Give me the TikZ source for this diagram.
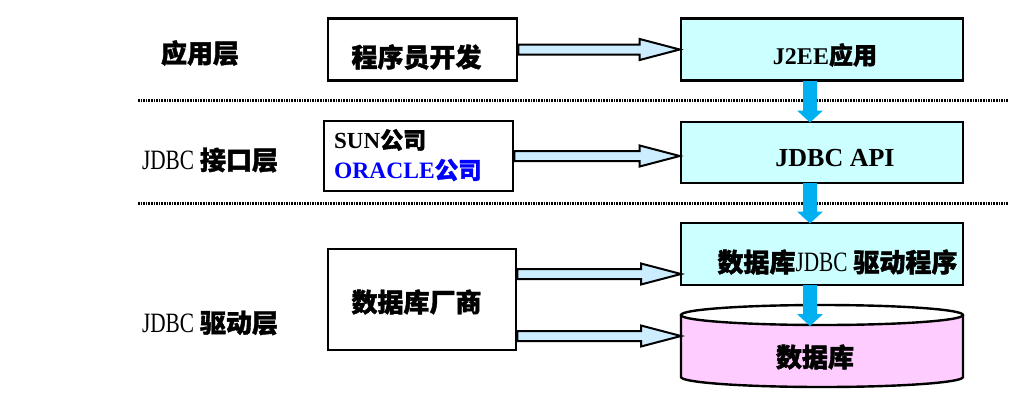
\documentclass[tikz,border=0pt]{standalone}
\usepackage{fontspec}
\setmainfont{Liberation Serif}
\newfontfamily\cjk[BoldFeatures={FakeBold=1.5}]{Noto Sans CJK SC}
\newfontfamily\narrowserif[FakeStretch=0.76]{Liberation Serif}
\usetikzlibrary{calc}
\definecolor{boxcyan}{HTML}{CCFFFF}
\definecolor{arrowfill}{HTML}{CCECFF}
\definecolor{dbpink}{HTML}{FFCCFF}
\definecolor{downblue}{HTML}{00B0F0}
\definecolor{oracleblue}{HTML}{0000FF}
\tikzset{
  plainbox/.style={draw=black, line width=2.6pt, fill=white, inner sep=0pt},
  cyanbox/.style={draw=black, line width=2.6pt, fill=boxcyan, inner sep=0pt},
  txt/.style={inner sep=0pt, font=\cjk\bfseries\fontsize{26}{30}\selectfont},
  harrow/.style={draw=black, line width=2pt, fill=arrowfill, line join=miter},
  varrow/.style={fill=downblue},
  dotline/.style={line width=3pt, dash pattern=on 1.6pt off 1pt}
}
\newcommand\blockarrowH[2]{%
  \path[harrow] let \p1=(#1), \p2=(#2) in
    (\x1,{\y1+5pt}) -- ({\x2-40pt},{\y1+5pt}) -- ({\x2-40pt},{\y1+10.5pt}) -- (\x2,\y1)
    -- ({\x2-40pt},{\y1-10.5pt}) -- ({\x2-40pt},{\y1-5pt}) -- (\x1,{\y1-5pt}) -- cycle;}
\newcommand\blockarrowV[2]{%
  \path[varrow] let \p1=(#1), \p2=(#2) in
    ({\x1-7pt},\y1) -- ({\x1-7pt},{\y2+12pt}) -- ({\x1-13pt},{\y2+12pt}) -- (\x1,\y2)
    -- ({\x1+13pt},{\y2+12pt}) -- ({\x1+7pt},{\y2+12pt}) -- ({\x1+7pt},\y1) -- cycle;}
\begin{document}
\begin{tikzpicture}[x=1pt,y=-1pt]
\useasboundingbox (0,0) rectangle (1013,408);

% dotted separators
\coordinate (d1a) at (138,100); \coordinate (d1b) at (1008,100);
\coordinate (d2a) at (138,203); \coordinate (d2b) at (1008,203);
\draw[dotline] (d1a) -- (d1b);
\draw[dotline] (d2a) -- (d2b);

% boxes
\node[plainbox, minimum width=189pt, minimum height=62pt] (dev) at (422.5,49.5) {};
\node[cyanbox, minimum width=282pt, minimum height=62pt] (j2ee) at (822,49.5) {};
\node[plainbox, minimum width=189pt, minimum height=70pt] (sun) at (418.5,156) {};
\node[cyanbox, minimum width=282pt, minimum height=61pt] (api) at (822,152.5) {};
\node[plainbox, minimum width=188pt, minimum height=101pt] (vendor) at (422,299.5) {};
\node[cyanbox, minimum width=282pt, minimum height=62pt] (driver) at (822,254) {};

% database cylinder
\draw[line width=2.4pt, fill=dbpink] (681,315) -- (681,377)
  arc[start angle=180, end angle=360, x radius=141pt, y radius=10pt] -- (963,315);
\draw[line width=2.4pt, fill=white] (822,315) ellipse [x radius=141pt, y radius=10pt];
\coordinate (dbtop) at (810,326);
\coordinate (dbleft1) at (681,274);
\coordinate (dbleft2) at (681,336);

% texts
\node[txt] (l1) at (200,53) {应用层};
\node[txt] (l2) at (210,160) {{\narrowserif\mdseries\fontsize{28}{30}\selectfont JDBC} 接口层};
\node[txt] (l3) at (210,323) {{\narrowserif\mdseries\fontsize{28}{30}\selectfont JDBC} 驱动层};
\node[txt] (t1) at (416.5,57) {程序员开发};
\node[txt, font=\cjk\bfseries\fontsize{24}{28}\selectfont] (t2) at (825,55) {{\rmfamily\bfseries J2EE}应用};
\node[txt, anchor=west, font=\cjk\bfseries\fontsize{23}{27}\selectfont] (t3) at (334,140) {{\rmfamily\bfseries SUN}公司};
\node[txt, anchor=west, text=oracleblue, font=\cjk\bfseries\fontsize{23.5}{27}\selectfont] (t4) at (334,170) {{\rmfamily\bfseries ORACLE}公司};
\node[txt, font=\rmfamily\bfseries\fontsize{26}{30}\selectfont] (t5) at (835,158) {JDBC API};
\node[txt] (t6) at (416.5,302) {数据库厂商};
\node[txt] (t7) at (837.5,262) {数据库{\narrowserif\mdseries\fontsize{28}{30}\selectfont JDBC} 驱动程序};
\node[txt] (t8) at (815,357) {数据库};

% horizontal block arrows
\blockarrowH{dev.east}{j2ee.west}
\blockarrowH{sun.east}{api.west}
\coordinate (v1) at (vendor.east |- dbleft1);
\coordinate (v2) at (vendor.east |- dbleft2);
\blockarrowH{v1}{dbleft1}
\blockarrowH{v2}{dbleft2}

% vertical blue arrows
\coordinate (a1s) at (810,81); \coordinate (a1e) at (810,122.5);
\coordinate (a2s) at (810,183); \coordinate (a2e) at (810,223.5);
\coordinate (a3s) at (810,285);
\blockarrowV{a1s}{a1e}
\blockarrowV{a2s}{a2e}
\blockarrowV{a3s}{dbtop}
\end{tikzpicture}
\end{document}
